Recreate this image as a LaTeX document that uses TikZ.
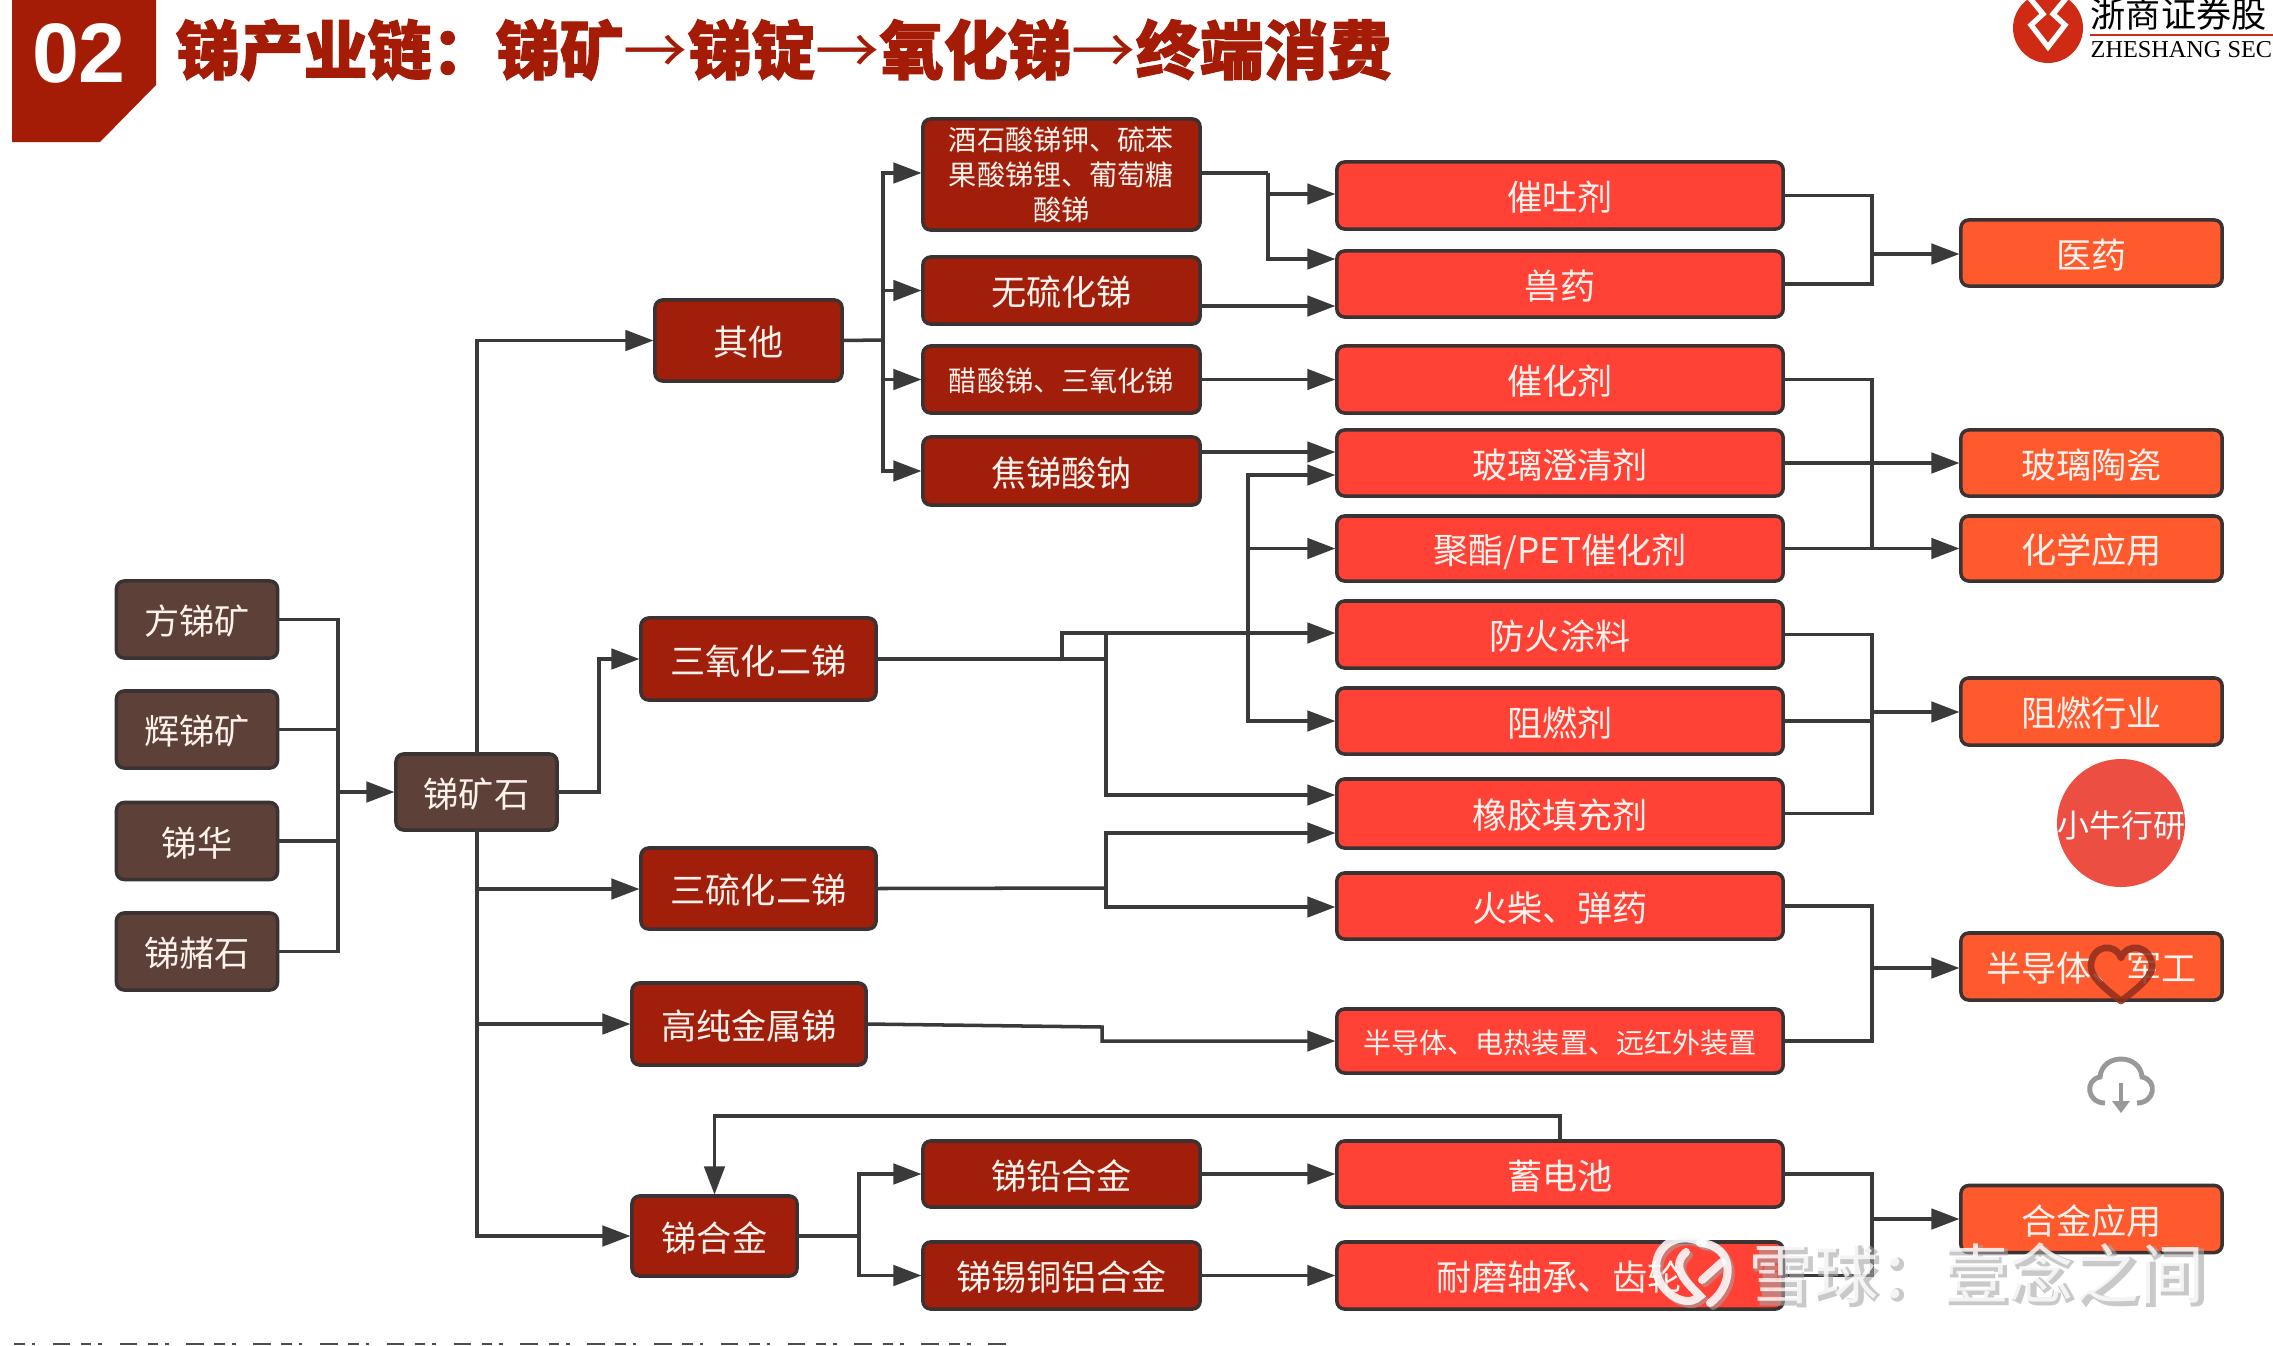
\documentclass[tikz,border=0pt]{standalone}
\usepackage{fontspec}
\setmainfont{Noto Sans CJK SC}
\newfontfamily\numfont{Liberation Sans}
\newfontfamily\serifen{Liberation Serif}
\newfontfamily\titlefont[BoldFeatures={FakeBold=1.6}]{Noto Sans CJK SC}
\usetikzlibrary{arrows.meta}
\definecolor{brownfill}{HTML}{5D4037}
\definecolor{darkred}{HTML}{A11E0A}
\definecolor{brightred}{HTML}{FF4136}
\definecolor{orangefill}{HTML}{FF5A2E}
\definecolor{edgecol}{HTML}{3B3233}
\definecolor{linecol}{HTML}{3A3A3A}
\definecolor{titlecol}{HTML}{A51C06}
\definecolor{logored}{HTML}{CE2A14}
\definecolor{txtcol}{HTML}{FFF1EC}
\definecolor{circfill}{HTML}{EC4E42}
\definecolor{heartcol}{HTML}{8F2E1E}
\definecolor{cloudcol}{HTML}{999999}
\tikzset{
  x=0.01cm,y=-0.01cm,
  boxbase/.style={rounded corners=2.2pt,draw=edgecol,line width=1pt,outer sep=0pt,inner sep=0pt,text=txtcol,align=center,text height=9pt,text depth=0.3pt,font=\fontsize{10}{10}\selectfont},
  brownbox/.style={boxbase,fill=brownfill,minimum width=1.61cm,minimum height=0.77cm},
  redmid/.style={boxbase,fill=darkred},
  col3box/.style={redmid,minimum width=2.77cm,minimum height=0.67cm},
  redbox/.style={boxbase,fill=brightred,minimum width=4.46cm,minimum height=0.66cm},
  orbox/.style={boxbase,fill=orangefill,minimum width=2.61cm,minimum height=0.66cm},
  smalltxt/.style={font=\fontsize{8}{10}\selectfont,text height=7.2pt,text depth=0.2pt},
  conn/.style={draw=linecol,line width=1pt,line join=miter},
  arr/.style={conn,-{Triangle[length=8pt,width=5.8pt]},shorten >=0.4pt},
  wmbase/.style={inner sep=0pt,anchor=west,font=\fontsize{18.5}{18.5}\selectfont},
  wmstroke/.style={line width=2.3pt,line cap=round},
}
\begin{document}
\begin{tikzpicture}
\useasboundingbox (0,0) rectangle (2273,1345);
\fill[white] (0,0) rectangle (2273,1345);

% header badge and title
\fill[titlecol] (12,0) -- (156,0) -- (156,85) -- (100,142) -- (12,142) -- cycle;
\node[text=white,font=\numfont\bfseries\fontsize{24}{24}\selectfont,inner sep=0pt] (badgenum) at (79,53) {02};
\node[anchor=west,text=titlecol,inner sep=0pt,font=\titlefont\fontsize{18.2}{18.2}\selectfont\bfseries] (titletext) at (175,50) {锑产业链：锑矿{\mdseries→}锑锭{\mdseries→}氧化锑{\mdseries→}终端消费};

% corporate logo
\fill[logored] (2048,28) circle (35);
\begin{scope}
\clip (2048,28) circle (35);
\draw[white,line width=1.5pt,line join=miter] (2028,-4) -- (2043,14) -- (2031,25) -- (2048,47) -- (2065,25) -- (2053,14) -- (2068,-4);
\end{scope}
\node[anchor=west,inner sep=0pt,text=black,font=\fontsize{10}{10}\selectfont] (logocn) at (2090,14) {浙商证券股};
\fill[logored] (2090,34) rectangle (2273,36);
\node[anchor=west,inner sep=0pt,text=black,font=\serifen\fontsize{6.9}{7}\selectfont] (logoen) at (2090,50) {ZHESHANG SEC};

% column 1
\node[brownbox] (fang) at (197,619.5) {方锑矿};
\node[brownbox] (hui) at (197,729.5) {辉锑矿};
\node[brownbox] (hua) at (197,841) {锑华};
\node[brownbox] (zhe) at (197,951.5) {锑赭石};
\node[brownbox,minimum height=0.76cm] (ore) at (476.5,792) {锑矿石};

% column 2
\node[redmid,minimum width=1.87cm,minimum height=0.81cm] (other) at (748.5,340.5) {其他};
\node[redmid,minimum width=2.35cm,minimum height=0.82cm] (oxide) at (758.5,659) {三氧化二锑};
\node[redmid,minimum width=2.35cm,minimum height=0.81cm] (sulf) at (758.5,888.5) {三硫化二锑};
\node[redmid,minimum width=2.34cm,minimum height=0.82cm] (pure) at (749,1024) {高纯金属锑};
\node[redmid,minimum width=1.65cm,minimum height=0.80cm] (alloy) at (714.5,1236) {锑合金};

% column 3
\node[col3box,smalltxt,text height=,text depth=,minimum height=1.11cm] (tart) at (1061.5,174.5) {酒石酸锑钾、硫苯\\果酸锑锂、葡萄糖\\酸锑};
\node[col3box] (wuliu) at (1061.5,290.5) {无硫化锑};
\node[col3box,smalltxt] (cusuan) at (1061.5,379.5) {醋酸锑、三氧化锑};
\node[col3box,minimum height=0.68cm] (jiao) at (1061.5,471) {焦锑酸钠};
\node[col3box,minimum height=0.66cm] (leadal) at (1061.5,1174) {锑铅合金};
\node[col3box] (snal) at (1061.5,1275.5) {锑锡铜铝合金};

% column 4
\node[redbox,minimum height=0.67cm] (emetic) at (1560,195.5) {催吐剂};
\node[redbox] (vet) at (1560,284) {兽药};
\node[redbox,minimum height=0.67cm] (catal) at (1560,379.5) {催化剂};
\node[redbox] (glass) at (1560,463) {玻璃澄清剂};
\node[redbox,minimum height=0.65cm] (pet) at (1560,548.5) {聚酯/PET催化剂};
\node[redbox,minimum height=0.67cm] (paint) at (1560,634.5) {防火涂料};
\node[redbox] (flame) at (1560,721) {阻燃剂};
\node[redbox,minimum height=0.69cm] (rubber) at (1560,813.5) {橡胶填充剂};
\node[redbox] (match) at (1560,906) {火柴、弹药};
\node[redbox,smalltxt,minimum height=0.64cm] (semi) at (1560,1041) {半导体、电热装置、远红外装置};
\node[redbox] (batt) at (1560,1174) {蓄电池};
\node[redbox,minimum height=0.67cm] (bear) at (1560,1275.5) {耐磨轴承、齿轮};

% column 5
\node[orbox] (med) at (2091.5,253) {医药};
\node[orbox] (glassc) at (2091.5,463) {玻璃陶瓷};
\node[orbox,minimum height=0.65cm] (chem) at (2091.5,548.5) {化学应用};
\node[orbox,minimum height=0.67cm] (frind) at (2091.5,711.5) {阻燃行业};
\node[orbox,minimum height=0.67cm] (mil) at (2091.5,966.5) {半导体、军工};
\node[orbox,minimum height=0.67cm] (allapp) at (2091.5,1219) {合金应用};

% bus coordinates
\coordinate (busA) at (338,792);
\coordinate (busB) at (477,889);
\coordinate (busC) at (599,792);
\coordinate (busD) at (883,340);
\coordinate (busE) at (1268,173);
\coordinate (busF) at (1248,633);
\coordinate (busG) at (1062,659);
\coordinate (busH) at (1106,659);
\coordinate (busI) at (1106,888);
\coordinate (busJ) at (1102,1027);
\coordinate (busK) at (859,1236);
\coordinate (busL) at (1872,254);
\coordinate (busM) at (1872,548.5);
\coordinate (busN) at (1872,712);
\coordinate (busO) at (1872,968);
\coordinate (busP) at (1872,1219);
\coordinate (batttop) at (1560,1116);

% column 1 to ore
\draw[conn] (fang.east) -| (busA);
\draw[conn] (hui.east) -| (busA);
\draw[conn] (hua.east) -| (busA);
\draw[conn] (zhe.east) -| (busA);
\draw[arr] (busA) -- (ore.west);

% ore to column 2
\draw[arr] (ore.east) -- (busC) |- (oxide.west);
\draw[arr] (ore.north -| busB) |- (other.west);
\draw[arr] (busB) -- (sulf.west |- busB);
\draw[arr] (busB |- pure.west) -- (pure.west);
\draw[arr] (ore.south -| busB) |- (alloy.west);

% other to column 3
\draw[conn] (other.east) -- (busD);
\draw[arr] (busD) |- (tart.west |- 0,173);
\draw[arr] (busD) |- (wuliu.west);
\draw[arr] (busD) |- (cusuan.west);
\draw[arr] (busD) |- (jiao.west);

% column 3 to column 4
\draw[conn] (tart.east |- busE) -- (busE);
\draw[arr] (busE) |- (emetic.west |- 0,194);
\draw[arr] (busE) |- (vet.west |- 0,259);
\draw[arr] (wuliu.east |- 0,306) -- (vet.west |- 0,306);
\draw[arr] (cusuan.east) -- (catal.west);
\draw[arr] (jiao.east |- 0,452) -- (glass.west |- 0,452);

% oxide
\draw[conn] (oxide.east) -- (busG) |- (busF);
\draw[conn] (oxide.east) -- (busH);
\draw[arr] (busF) -- (paint.west |- busF);
\draw[arr] (busF) |- (glass.west |- 0,475);
\draw[arr] (busF) |- (pet.west);
\draw[arr] (busF) |- (flame.west);
\draw[arr] (busH |- busF) |- (rubber.west |- 0,795);

% sulfide
\draw[conn] (sulf.east) -- (busI);
\draw[arr] (busI) |- (rubber.west |- 0,833);
\draw[arr] (busI) |- (match.west |- 0,907);

% pure
\draw[arr] (pure.east) -- (busJ) |- (semi.west);

% alloy
\draw[arr] (alloy.east) -- (busK) |- (leadal.west);
\draw[arr] (busK) |- (snal.west);
\draw[arr] (leadal.east) -- (batt.west);
\draw[arr] (snal.east) -- (bear.west);
\draw[arr] (batt.north) -- (batttop) -| (alloy.north);

% column 4 to column 5
\draw[conn] (emetic.east) -| (busL);
\draw[conn] (vet.east) -| (busL);
\draw[arr] (busL) -- (med.west |- busL);
\draw[conn] (catal.east) -| (busM);
\draw[arr] (pet.east) -- (chem.west);
\draw[arr] (glass.east) -- (glassc.west);
\draw[conn] (paint.east) -| (busN);
\draw[conn] (flame.east) -- (busN |- flame.east);
\draw[conn] (rubber.east) -| (busN);
\draw[arr] (busN) -- (frind.west |- busN);
\draw[conn] (match.east) -| (busO);
\draw[conn] (semi.east) -| (busO);
\draw[arr] (busO) -- (mil.west |- busO);
\draw[conn] (batt.east) -| (busP);
\draw[conn] (bear.east) -| (busP);
\draw[arr] (busP) -- (allapp.west |- busP);

% overlays: badge circle, heart, cloud
\fill[circfill] (2121,823) circle (64);
\node[text=white,inner sep=0pt,font=\fontsize{9.1}{9.1}\selectfont] (niu) at (2121,825) {小牛行研};
\draw[heartcol,draw opacity=0.85,line width=1.9pt,line join=round]
  (2121,1001) .. controls (2100,985) and (2090,975) .. (2091,965) .. controls (2092,945) and (2115,942) .. (2121,958) .. controls (2127,942) and (2150,945) .. (2152,965) .. controls (2153,975) and (2142,985) .. cycle;
\draw[cloudcol,line width=1.4pt]
  (2105,1103) .. controls (2087,1103) and (2084,1080) .. (2100,1077) .. controls (2102,1053) and (2140,1053) .. (2142,1077) .. controls (2158,1080) and (2155,1103) .. (2137,1103);
\draw[cloudcol,line width=1.25pt] (2121,1083) -- (2121,1103);
\fill[cloudcol] (2112,1101) -- (2130,1101) -- (2121,1113) -- cycle;

% footer remnants
\draw[black!70,line width=0.4pt,dash pattern=on 3pt off 2pt on 1pt off 5pt on 5pt off 3pt] (14,1344) -- (1010,1344);

% watermark
\begin{scope}[xshift=0.03cm,yshift=-0.03cm]
\draw[gray!70,opacity=.55,wmstroke] (1703,1243) .. controls (1668,1225) and (1642,1262) .. (1664,1288) .. controls (1674,1300) and (1690,1306) .. (1700,1296) .. controls (1690,1285) and (1668,1268) .. (1686,1252);
\draw[gray!70,opacity=.55,wmstroke] (1700,1243) .. controls (1735,1245) and (1735,1285) .. (1710,1303);
\draw[gray!70,opacity=.55,wmstroke] (1722,1262) -- (1702,1280);
\node[wmbase,text=gray!70,opacity=.6] (wmshadow) at (1748,1273) {\bfseries 雪球：壹念之间};
\end{scope}
\draw[white,opacity=.85,wmstroke] (1703,1243) .. controls (1668,1225) and (1642,1262) .. (1664,1288) .. controls (1674,1300) and (1690,1306) .. (1700,1296) .. controls (1690,1285) and (1668,1268) .. (1686,1252);
\draw[white,opacity=.85,wmstroke] (1700,1243) .. controls (1735,1245) and (1735,1285) .. (1710,1303);
\draw[white,opacity=.85,wmstroke] (1722,1262) -- (1702,1280);
\node[wmbase,text=white,opacity=.8] (wm) at (1748,1273) {雪球：壹念之间};
\end{tikzpicture}
\end{document}
